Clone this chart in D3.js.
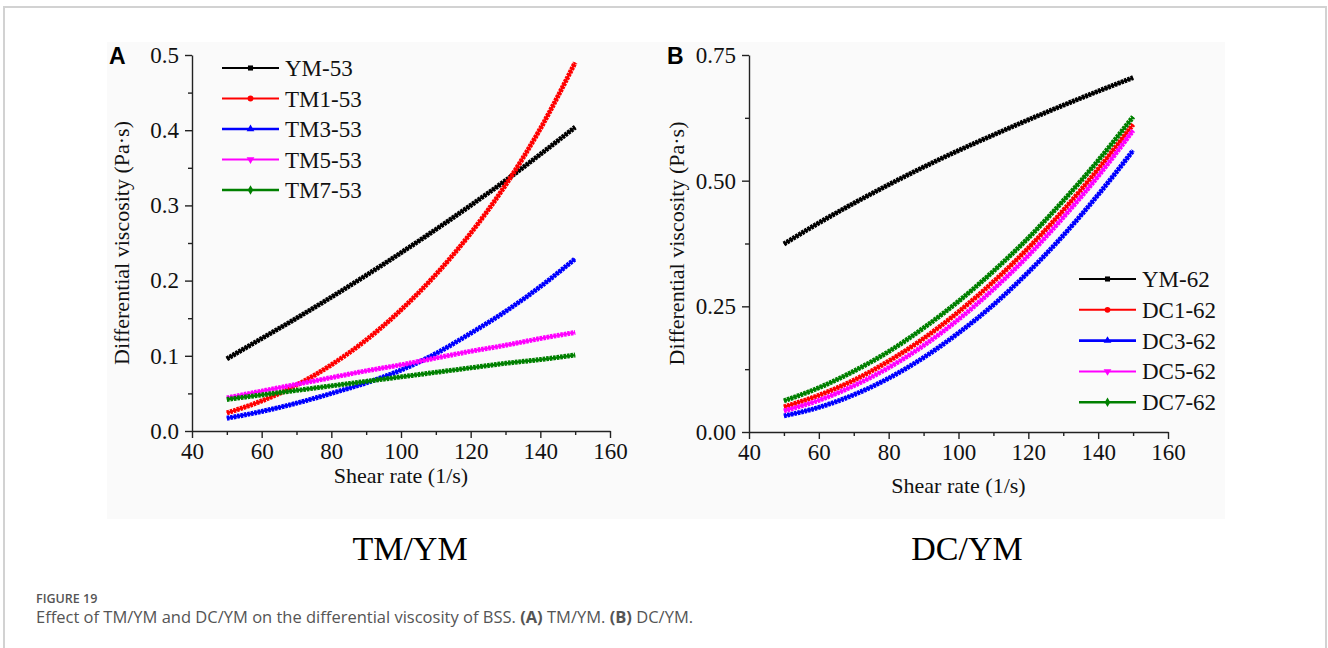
<!DOCTYPE html>
<html>
<head>
<meta charset="utf-8">
<script src="https://cdn.jsdelivr.net/npm/d3@7"></script>
<style>
  body { margin: 0; background: #fff; }
  svg { display: block; }
</style>
</head>
<body>
<svg id="chart" width="1328" height="648"></svg>
<script>
const shearRate = [50, 60, 70, 80, 90, 100, 110, 120, 130, 140, 150];

// panel A: TM/YM, differential viscosity (Pa·s)
const seriesA = ["YM-53", "TM1-53", "TM3-53", "TM5-53", "TM7-53"];
const ym53  = [0.096, 0.123, 0.150, 0.178, 0.207, 0.237, 0.268, 0.300, 0.333, 0.368, 0.404];
const tm153 = [0.024, 0.040, 0.061, 0.088, 0.121, 0.161, 0.208, 0.263, 0.327, 0.402, 0.490];
const tm353 = [0.017, 0.026, 0.037, 0.050, 0.064, 0.081, 0.103, 0.130, 0.159, 0.192, 0.229];
const tm553 = [0.044, 0.053, 0.062, 0.071, 0.080, 0.088, 0.097, 0.106, 0.114, 0.123, 0.131];
const tm753 = [0.042, 0.048, 0.054, 0.060, 0.066, 0.072, 0.078, 0.084, 0.090, 0.095, 0.101];

// panel B: DC/YM
const seriesB = ["YM-62", "DC1-62", "DC3-62", "DC5-62", "DC7-62"];
const ym62  = [0.374, 0.416, 0.455, 0.492, 0.527, 0.560, 0.591, 0.621, 0.650, 0.678, 0.705];
const dc162 = [0.050, 0.073, 0.103, 0.141, 0.186, 0.239, 0.299, 0.366, 0.441, 0.523, 0.612];
const dc362 = [0.032, 0.049, 0.074, 0.107, 0.148, 0.197, 0.253, 0.318, 0.391, 0.472, 0.560];
const dc562 = [0.042, 0.063, 0.092, 0.128, 0.172, 0.224, 0.284, 0.351, 0.427, 0.509, 0.600];
const dc762 = [0.062, 0.088, 0.121, 0.160, 0.207, 0.260, 0.320, 0.386, 0.460, 0.540, 0.627];

const xTicks = [40, 60, 80, 100, 120, 140, 160];
const yTicksA = [0, 0.1, 0.2, 0.3, 0.4, 0.5];
const yTicksB = [0, 0.25, 0.5, 0.75];

const colors = ["#000000", "#ff0000", "#0000ff", "#ff00ff", "#008000"];
const symbols = [d3.symbolSquare, d3.symbolCircle, d3.symbolTriangle, d3.symbolTriangle, d3.symbolDiamond];
const serif = "'Liberation Serif', 'Times New Roman', serif";

const svg = d3.select("#chart");

// page card and figure image backdrop
svg.append("path")
    .attr("d", "M4,660 L4,7 L1326,7 L1326,660")
    .attr("fill", "none")
    .attr("stroke", "#d2d2d2")
    .attr("stroke-width", 2);
svg.append("rect")
    .attr("x", 107).attr("y", 42)
    .attr("width", 1118).attr("height", 477)
    .attr("fill", "#fafafa");

function drawPanel(opt) {
    const g = svg.append("g");
    const x = d3.scaleLinear().domain([40, 160]).range(opt.xRange);
    const y = d3.scaleLinear().domain(opt.yDomain).range(opt.yRange);

    // minor ticks
    const minorX = d3.range(40, 161, 10).filter(v => v % 20 !== 0);
    g.append("g")
        .attr("transform", `translate(0,${opt.yRange[0]})`)
        .call(d3.axisBottom(x).tickValues(minorX).tickSize(4).tickFormat(""))
        .call(s => s.select(".domain").remove());
    g.append("g")
        .attr("transform", `translate(${opt.xRange[0]},0)`)
        .call(d3.axisLeft(y).tickValues(opt.minorY).tickSize(4).tickFormat(""))
        .call(s => s.select(".domain").remove());

    const xAxis = g.append("g")
        .attr("transform", `translate(0,${opt.yRange[0]})`)
        .call(d3.axisBottom(x).tickValues(xTicks).tickSize(7).tickSizeOuter(0).tickPadding(5));
    const yAxis = g.append("g")
        .attr("transform", `translate(${opt.xRange[0]},0)`)
        .call(d3.axisLeft(y).tickValues(opt.yTicks).tickSize(7).tickSizeOuter(0)
            .tickPadding(6).tickFormat(d3.format(opt.fmt)));

    g.selectAll(".tick line, .domain").attr("stroke", "#222").attr("stroke-width", 1.4);
    [xAxis, yAxis].forEach(a => a.selectAll("text")
        .attr("font-family", serif)
        .attr("font-size", 23)
        .attr("fill", "#111"));

    // series
    const line = d3.line()
        .x((d, i) => x(shearRate[i]))
        .y(d => y(d))
        .curve(d3.curveMonotoneX);

    opt.values.forEach((vals, k) => {
        g.append("path")
            .attr("d", line(vals))
            .attr("fill", "none")
            .attr("stroke", colors[k])
            .attr("stroke-width", 2.2);
        // dense symbols of the original look like a beaded line
        g.append("path")
            .attr("d", line(vals))
            .attr("fill", "none")
            .attr("stroke", colors[k])
            .attr("stroke-width", 5)
            .attr("stroke-dasharray", "2.6,0.9");
    });

    // legend
    const leg = g.append("g");
    opt.names.forEach((name, k) => {
        const ly = opt.legY + k * opt.legStep;
        leg.append("line")
            .attr("x1", opt.legX).attr("x2", opt.legX + 57)
            .attr("y1", ly).attr("y2", ly)
            .attr("stroke", colors[k])
            .attr("stroke-width", k === 2 || k === 4 ? 2.6 : 2);
        leg.append("path")
            .attr("d", d3.symbol(symbols[k], 26)())
            .attr("transform", `translate(${opt.legX + 28.5},${ly})` + (k === 3 ? " rotate(180)" : ""))
            .attr("fill", colors[k]);
        leg.append("text")
            .attr("x", opt.legX + 63).attr("y", ly + 8)
            .attr("font-family", serif)
            .attr("font-size", 23)
            .attr("fill", "#111")
            .text(name);
    });

    // axis titles
    g.append("text")
        .attr("transform", `translate(${opt.yTitleX},${(opt.yRange[0] + opt.yRange[1]) / 2}) rotate(-90)`)
        .attr("text-anchor", "middle")
        .attr("font-family", serif)
        .attr("font-size", 22)
        .attr("fill", "#111")
        .text("Differential viscosity (Pa·s)");
    g.append("text")
        .attr("x", (opt.xRange[0] + opt.xRange[1]) / 2)
        .attr("y", opt.xTitleY)
        .attr("text-anchor", "middle")
        .attr("font-family", serif)
        .attr("font-size", 22)
        .attr("fill", "#111")
        .text("Shear rate (1/s)");

    // panel letter
    g.append("text")
        .attr("x", opt.letterX).attr("y", 64)
        .attr("font-family", "'Liberation Sans', Arial, sans-serif")
        .attr("font-weight", "bold")
        .attr("font-size", 23)
        .attr("fill", "#000")
        .text(opt.letter);

    // sub caption
    g.append("text")
        .attr("x", opt.subX).attr("y", 560)
        .attr("text-anchor", "middle")
        .attr("font-family", serif)
        .attr("font-size", 34)
        .attr("fill", "#000")
        .text(opt.sub);
}

drawPanel({
    xRange: [192, 610], yRange: [431, 55], yDomain: [0, 0.5],
    yTicks: yTicksA, minorY: [0.05, 0.15, 0.25, 0.35, 0.45], fmt: ".1f",
    values: [ym53, tm153, tm353, tm553, tm753], names: seriesA,
    legX: 222, legY: 68, legStep: 30.5,
    yTitleX: 129, xTitleY: 483, letterX: 109, letter: "A",
    subX: 410, sub: "TM/YM"
});

drawPanel({
    xRange: [749, 1168], yRange: [432, 55], yDomain: [0, 0.75],
    yTicks: yTicksB, minorY: [0.125, 0.375, 0.625], fmt: ".2f",
    values: [ym62, dc162, dc362, dc562, dc762], names: seriesB,
    legX: 1079, legY: 279, legStep: 30.8,
    yTitleX: 684, xTitleY: 493, letterX: 667, letter: "B",
    subX: 967, sub: "DC/YM"
});

// figure caption
svg.append("text")
    .attr("x", 36).attr("y", 603)
    .attr("font-family", "'Open Sans', 'Noto Sans', sans-serif")
    .attr("font-size", 12.5)
    .attr("font-weight", 600)
    .attr("fill", "#555")
    .text("FIGURE 19");
const cap = svg.append("text")
    .attr("x", 36).attr("y", 623)
    .attr("font-family", "'Open Sans', 'Noto Sans', sans-serif")
    .attr("font-size", 16.5)
    .attr("fill", "#555");
cap.append("tspan").text("Effect of TM/YM and DC/YM on the differential viscosity of BSS. ");
cap.append("tspan").attr("font-weight", "bold").text("(A)");
cap.append("tspan").text(" TM/YM. ");
cap.append("tspan").attr("font-weight", "bold").text("(B)");
cap.append("tspan").text(" DC/YM.");
</script>
</body>
</html>
